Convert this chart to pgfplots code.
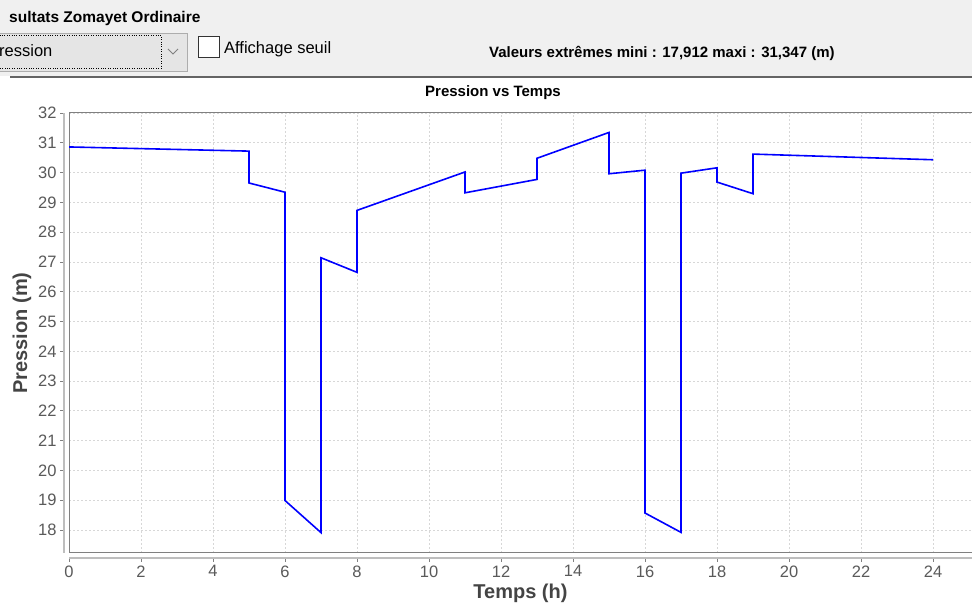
\documentclass[border=0pt]{standalone}
\usepackage{fontspec}
\setmainfont{Liberation Sans}
\usepackage{pgfplots}
\pgfplotsset{compat=1.18}
\definecolor{hdr}{HTML}{F0F0F0}
\definecolor{hdrline}{RGB}{100,100,100}
\definecolor{ticktxt}{RGB}{90,90,90}
\definecolor{labtxt}{RGB}{68,68,68}
\definecolor{outline}{RGB}{128,128,128}
\definecolor{axline}{RGB}{190,190,190}
\definecolor{gridc}{RGB}{215,215,215}
\definecolor{combo}{RGB}{229,229,229}
\definecolor{comboedge}{RGB}{173,173,173}
\definecolor{boxedge}{RGB}{51,51,51}
\definecolor{serie}{RGB}{0,0,255}
\begin{document}
\begin{tikzpicture}[x=1pt,y=1pt]
\useasboundingbox (0,0) rectangle (972,612);
\fill[white] (0,0) rectangle (972,612);
% header bar
\fill[hdr] (0,536) rectangle (972,612);
\draw[line width=2.5pt, color=hdrline] (10,535) -- (972,535);
\node[anchor=base west, inner sep=0, font=\fontsize{15.5}{16}\selectfont\bfseries] at (9,589) {sultats Zomayet Ordinaire};
\draw[fill=combo, draw=comboedge] (-1,541) rectangle (187,579);
\draw[dotted, black] (-1,544) rectangle (161,577);
\draw[gray, line width=0.8pt] (168,563) -- (173,558) -- (178,563);
\node[anchor=base west, inner sep=0, font=\fontsize{16.5}{17}\selectfont] at (-1,555) {ression};
\draw[fill=white, draw=boxedge, line width=1pt] (198,554) rectangle (219,575);
\node[anchor=base west, inner sep=0, font=\fontsize{16.5}{17}\selectfont] at (224,558) {Affichage seuil};
\node[anchor=base west, inner sep=0, font=\fontsize{15}{16}\selectfont\bfseries] at (489,554) {Valeurs extrêmes mini : 17,912 maxi : 31,347 (m)};
% title
\node[anchor=base, inner sep=0, font=\fontsize{15}{16}\selectfont\bfseries] at (493,515) {Pression vs Temps};

% main plot area
\begin{axis}[
  at={(69pt,59pt)}, anchor=south west,
  width=903pt, height=440pt, scale only axis,
  xmin=0, xmax=25.083, ymin=17.228, ymax=32,
  xtick={0,2,...,24}, ytick={18,19,...,32},
  xticklabels={}, yticklabels={},
  major tick length=0pt,
  grid=major,
  grid style={dash pattern=on 2pt off 2pt, color=gridc, line width=0.8pt},
  axis line style={draw=outline, line width=1pt},
]
\addplot[color=serie, line width=1.6pt, mark=none] coordinates {
(0,30.86) (5,30.72) (5,29.65) (6,29.34) (6,18.99) (7,17.912) (7,27.14) (8,26.65)
(8,28.73) (11,30.02) (11,29.32) (13,29.77) (13,30.48) (15,31.347) (15,29.96)
(16,30.08) (16,18.57) (17,17.92) (17,29.98) (18,30.16) (18,29.68) (19,29.29)
(19,30.62) (24,30.43)
};
\end{axis}

% offset x axis
\begin{axis}[
  at={(69pt,54pt)}, anchor=south west,
  width=903pt, height=440pt, scale only axis,
  xmin=0, xmax=25.083, ymin=0, ymax=1,
  axis x line*=bottom, hide y axis,
  x axis line style={-, draw=axline, line width=1.6pt},
  xtick={0,2,...,24},
  tick align=outside, major tick length=4pt,
  tick style={draw=outline, line width=0.8pt},
  /pgf/number format/assume math mode=true,
  ticklabel style={font=\fontsize{16.5}{17}\selectfont, text=ticktxt},
  xlabel={Temps (h)},
  xlabel style={font=\fontsize{20}{21}\selectfont\bfseries, text=labtxt},
]
\end{axis}

% offset y axis
\begin{axis}[
  at={(64pt,59pt)}, anchor=south west,
  width=903pt, height=440pt, scale only axis,
  xmin=0, xmax=1, ymin=17.228, ymax=32,
  axis y line*=left, hide x axis,
  y axis line style={-, draw=axline, line width=1.6pt},
  ytick={18,19,...,32},
  tick align=outside, major tick length=4pt,
  tick style={draw=outline, line width=0.8pt},
  /pgf/number format/assume math mode=true,
  ticklabel style={font=\fontsize{16.5}{17}\selectfont, text=ticktxt},
  ylabel={Pression (m)},
  ylabel style={font=\fontsize{20}{21}\selectfont\bfseries, text=labtxt},
]
\end{axis}
\end{tikzpicture}
\end{document}
